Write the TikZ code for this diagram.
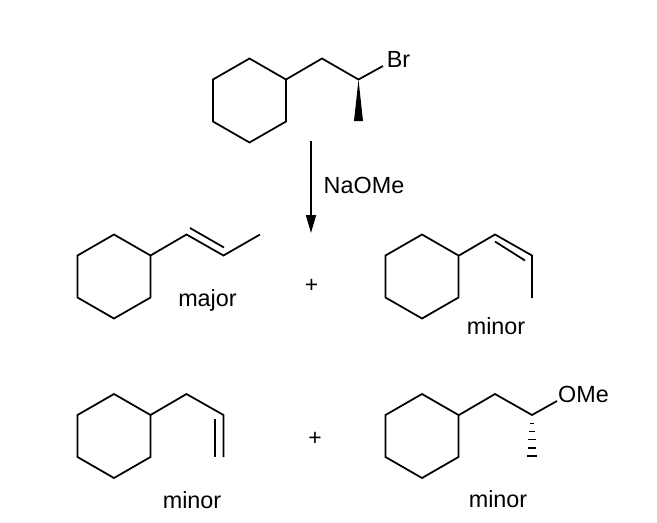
\documentclass[tikz,border=0pt]{standalone}
\usepackage{fontspec}
\setmainfont{Liberation Sans}
\usetikzlibrary{arrows.meta,calc}
\tikzset{
	bond/.style={line width=1pt},
	chemtext/.style={anchor=base,font=\fontsize{13.3}{15}\selectfont,inner sep=0pt},
	plussign/.style={anchor=center,font=\fontsize{13}{15}\selectfont,inner sep=0pt},
}

\begin{document}
\begin{tikzpicture}[x=0.02cm,y=-0.02cm]
	\useasboundingbox (0,0) rectangle (657,522);

	% the five rings
	\foreach \x/\y in {249.5/58.5,114/234.5,422/234.5,114/394,422/394}{
		\draw[bond] (\x,\y) -- ++(36.5,21) -- ++(0,42) -- ++(-36.5,21) -- ++(-36.5,-21) -- ++(0,-42) -- cycle;
	}

	% bromide
	\coordinate (brA) at (286,79.5);
	\coordinate (brB) at (322,58.5);
	\coordinate (brC) at (358.5,79.5);
	\coordinate (brD) at (383,66);
	\coordinate (brE) at (358.5,121);
	\node[chemtext] (brlabel) at (398.5,67) {Br};
	\draw[bond] (brA) -- (brB) -- (brC) -- (brD);
	\fill (brC) -- ($(brE)+(4.5,0)$) -- ($(brE)+(-4.5,0)$) -- cycle;

	% reaction arrow
	\coordinate (start) at (311,141);
	\coordinate (end) at (311,233);
	\draw[bond,-{Triangle[length=0.36cm,width=0.2cm]}] (start) -- (end);
	\node[chemtext] (reagent) at (364,193) {NaOMe};

	% major alkene
	\coordinate (majA) at (150.5,255.5);
	\coordinate (majB) at (186.5,234.5);
	\coordinate (majC) at (223.5,255.5);
	\coordinate (majD) at (260,234.5);
	\coordinate (majE) at (190,228);
	\coordinate (majF) at (224,247.5);
	\draw[bond] (majA) -- (majB) -- (majC) -- (majD);
	\draw[bond] (majE) -- (majF);
	\node[chemtext] (major) at (207.5,306) {major};
	\node[plussign] (plusA) at (311.5,285.5) {+};

	% cis alkene
	\coordinate (cisA) at (459,255.5);
	\coordinate (cisB) at (495,234.5);
	\coordinate (cisC) at (532,255.5);
	\coordinate (cisD) at (532,298);
	\coordinate (cisE) at (495,241.5);
	\coordinate (cisF) at (525,260.5);
	\draw[bond] (cisA) -- (cisB) -- (cisC) -- (cisD);
	\draw[bond] (cisE) -- (cisF);
	\node[chemtext] (minorA) at (496,334) {minor};

	% terminal alkene
	\coordinate (allA) at (150.5,415);
	\coordinate (allB) at (186.5,394);
	\coordinate (allC) at (223.5,415);
	\coordinate (allD) at (223.5,457);
	\coordinate (allE) at (215,419);
	\coordinate (allF) at (215,457);
	\draw[bond] (allA) -- (allB) -- (allC) -- (allD);
	\draw[bond] (allE) -- (allF);
	\node[chemtext] (minorB) at (192,508) {minor};
	\node[plussign] (plusB) at (315,438.5) {+};

	% ether
	\coordinate (ethA) at (459,415);
	\coordinate (ethB) at (495,394);
	\coordinate (ethC) at (532,415);
	\coordinate (ethD) at (557,401);
	\node[chemtext] (ome) at (583.5,402) {OMe};
	\draw[bond] (ethA) -- (ethB) -- (ethC) -- (ethD);
	\foreach \y/\w in {423.5/1.7,431.7/2.7,439.7/3.7,448/4.4,456/5.3}{
		\draw[line width=0.8pt] (532-\w,\y) -- (532+\w,\y);
	}
	\node[chemtext] (minorC) at (498,507) {minor};
\end{tikzpicture}
\end{document}
